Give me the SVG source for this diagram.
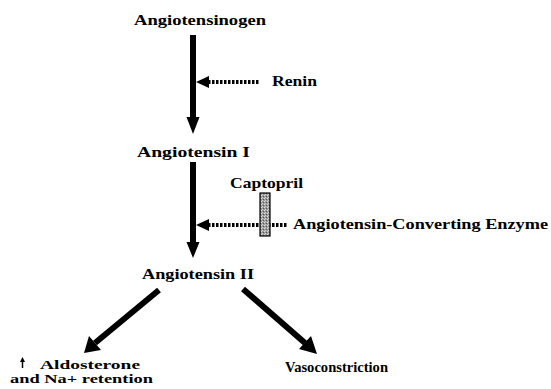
<svg xmlns="http://www.w3.org/2000/svg" width="551" height="389" viewBox="0 0 551 389">
<defs>
<style>
text{font-family:"Liberation Serif","DejaVu Serif",serif;font-weight:bold;font-size:14.5px;fill:#000}
.small{font-size:11.5px}
.shaft{stroke:#000;stroke-width:6;fill:none}
.dot{stroke:#000;stroke-width:4;stroke-dasharray:2.5 1.5;fill:none}
.head{fill:#000}
</style>
<pattern id="grain" width="3" height="3" patternUnits="userSpaceOnUse">
<rect width="3" height="3" fill="#9a9a9a"/>
<rect x="0" y="0" width="1" height="1" fill="#e0e0e0"/>
<rect x="2" y="1" width="1" height="1" fill="#555"/>
<rect x="1" y="2" width="1" height="1" fill="#d0d0d0"/>
</pattern>
</defs>
<rect width="551" height="389" fill="#fff"/>
<g id="connectors">
<line class="shaft" x1="193" y1="35" x2="193" y2="119"/>
<polygon class="head" points="186.5,117 199.5,117 193,134"/>
<line class="shaft" x1="193" y1="162" x2="193" y2="244"/>
<polygon class="head" points="186.5,242 199.5,242 193,258"/>
<line class="dot" x1="208" y1="82" x2="260" y2="82"/>
<polygon class="head" points="196,82 209,76 209,88"/>
<line class="dot" x1="208" y1="225" x2="287" y2="225"/>
<polygon class="head" points="196,225 209,219 209,231"/>
<line class="shaft" x1="159" y1="290" x2="95" y2="343"/>
<polygon class="head" points="84,353 89,336 101,350"/>
<line class="shaft" x1="243" y1="289" x2="305" y2="343"/>
<polygon class="head" points="317,354 299,349 311,336"/>
</g>
<g id="captopril-block">
<rect x="260" y="193" width="10" height="43" fill="url(#grain)" stroke="#000" stroke-width="1.2"/>
</g>
<g id="angiotensinogen"><text x="134" y="25" textLength="132" lengthAdjust="spacingAndGlyphs">Angiotensinogen</text></g>
<g id="renin"><text x="272" y="86" textLength="45" lengthAdjust="spacingAndGlyphs">Renin</text></g>
<g id="angiotensin-i"><text x="137" y="157" textLength="113" lengthAdjust="spacingAndGlyphs">Angiotensin I</text></g>
<g id="captopril"><text x="230" y="188" textLength="73" lengthAdjust="spacingAndGlyphs">Captopril</text></g>
<g id="ace"><text x="293" y="229" textLength="255" lengthAdjust="spacingAndGlyphs">Angiotensin-Converting Enzyme</text></g>
<g id="angiotensin-ii"><text x="142" y="279" textLength="112" lengthAdjust="spacingAndGlyphs">Angiotensin II</text></g>
<g id="aldosterone">
<line x1="22.5" y1="368" x2="22.5" y2="361" stroke="#000" stroke-width="1.5"/>
<polygon class="head" points="20,362 25,362 22.5,357"/>
<text class="small" x="40" y="369" textLength="100" lengthAdjust="spacingAndGlyphs">Aldosterone</text>
<text class="small" x="10" y="382.5" textLength="143" lengthAdjust="spacingAndGlyphs">and Na+ retention</text>
</g>
<g id="vasoconstriction"><text x="285" y="372" textLength="103" lengthAdjust="spacingAndGlyphs">Vasoconstriction</text></g>
</svg>
